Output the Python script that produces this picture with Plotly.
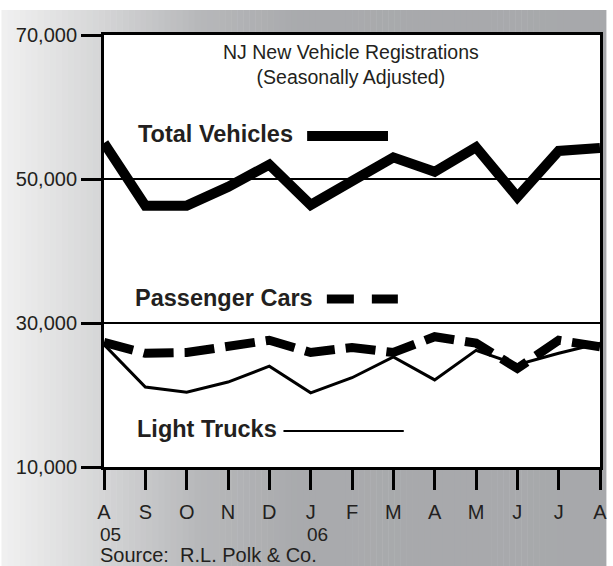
import plotly.graph_objects as go

# data (Aug 2005 - Aug 2006)
months = ['A', 'S', 'O', 'N', 'D', 'J', 'F', 'M', 'A', 'M', 'J', 'J', 'A']
years = ['05', '06']
year_pos = [0, 5]
total = [55000, 46300, 46300, 48900, 52000, 46400, 49700, 53000, 51000, 54400, 47500, 53900, 54300]
cars = [27300, 25800, 25900, 26700, 27600, 25900, 26600, 25900, 28100, 27200, 23700, 27600, 26700]
trucks = [27000, 21100, 20400, 21800, 24000, 20300, 22400, 25300, 22100, 26200, 24200, 25800, 27200]
yticks = [10000, 30000, 50000, 70000]

W, H = 613, 566
L, R, T, B = 104, 6, 35, 99
pw, ph = W - L - R, H - T - B

FONT = 'Liberation Sans, Arial, sans-serif'
INK = '#231f20'


def px(x):
    return (x - L) / pw


def py(y):
    return (H - B - y) / ph


def grey(x):
    # background gradient, light on the left, flat grey to the right
    stops = [(0, 241), (100, 213), (200, 183), (300, 169), (W, 167)]
    for (a, ca), (b, cb) in zip(stops[:-1], stops[1:]):
        if x <= b:
            v = ca + (cb - ca) * (x - a) / (b - a)
            break
    tint = (241 - v) / 74.0 * 4
    return 'rgb(%d,%d,%d)' % (round(v), round(v + tint * 0.3), round(v + tint))


xs = list(range(len(months)))

fig = go.Figure()
fig.add_trace(go.Scatter(x=xs, y=trucks, mode='lines',
                         line=dict(color='black', width=3), showlegend=False))
fig.add_trace(go.Scatter(x=xs, y=cars, mode='lines',
                         line=dict(color='black', width=9, dash='30px,11px'), showlegend=False))
fig.add_trace(go.Scatter(x=xs, y=total, mode='lines',
                         line=dict(color='black', width=10), showlegend=False))

shapes = []
n = 100
for i in range(n):
    x0 = W * i / n
    x1 = W * (i + 1) / n
    shapes.append(dict(type='rect', xref='paper', yref='paper', layer='below',
                       x0=px(x0), x1=px(x1 + 0.5), y0=py(H), y1=py(10),
                       fillcolor=grey((x0 + x1) / 2), line=dict(width=0)))
shapes.append(dict(type='rect', xref='paper', yref='paper', layer='below',
                   x0=0, x1=1, y0=0, y1=1, fillcolor='white', line=dict(width=0)))

# key samples
shapes.append(dict(type='line', xref='paper', yref='paper', x0=px(310), x1=px(392),
                   y0=py(136), y1=py(136), line=dict(color='black', width=10)))
shapes.append(dict(type='line', xref='paper', yref='paper', x0=px(330), x1=px(402),
                   y0=py(299), y1=py(299), line=dict(color='black', width=9, dash='27px,18px')))
shapes.append(dict(type='line', xref='paper', yref='paper', x0=px(286), x1=px(408),
                   y0=py(431), y1=py(431), line=dict(color='black', width=2)))

annotations = [
    dict(text='NJ New Vehicle Registrations<br>(Seasonally Adjusted)', xref='paper', yref='paper',
         x=px(354), y=py(65), xanchor='center', yanchor='middle', showarrow=False,
         font=dict(family=FONT, size=19.5, color=INK)),
    dict(text='<b>Total Vehicles</b>', xref='paper', yref='paper', x=px(136), y=py(134),
         xanchor='left', yanchor='middle', showarrow=False, font=dict(family=FONT, size=23.5, color=INK)),
    dict(text='<b>Passenger Cars</b>', xref='paper', yref='paper', x=px(133), y=py(298),
         xanchor='left', yanchor='middle', showarrow=False, font=dict(family=FONT, size=23.5, color=INK)),
    dict(text='<b>Light Trucks</b>', xref='paper', yref='paper', x=px(135), y=py(429),
         xanchor='left', yanchor='middle', showarrow=False, font=dict(family=FONT, size=23.5, color=INK)),
    dict(text='Source:  R.L. Polk & Co.', xref='paper', yref='paper', x=px(98), y=py(555),
         xanchor='left', yanchor='middle', showarrow=False, font=dict(family=FONT, size=20, color=INK)),
]
for yr, pos in zip(years, year_pos):
    annotations.append(dict(text=yr, xref='x', yref='paper', x=pos, y=py(534), xshift=-6,
                            xanchor='left', yanchor='middle', showarrow=False,
                            font=dict(family=FONT, size=19, color=INK)))

fig.update_layout(
    width=W, height=H,
    margin=dict(l=L, r=R, t=T, b=B),
    paper_bgcolor='white', plot_bgcolor='white',
    shapes=shapes, annotations=annotations,
    xaxis=dict(range=[0, 12], tickmode='array', tickvals=xs, ticktext=months,
               ticks='outside', ticklen=20, tickwidth=3, tickcolor='black',
               showline=True, linewidth=3, linecolor='black', mirror=True,
               showgrid=False, zeroline=False, ticklabelstandoff=5,
               tickfont=dict(family=FONT, size=20, color=INK)),
    yaxis=dict(range=[10000, 70000], tickmode='array', tickvals=yticks,
               ticktext=['{:,}'.format(v) for v in yticks],
               ticks='outside', ticklen=20, tickwidth=3, tickcolor='black',
               showline=True, linewidth=3, linecolor='black', mirror=True,
               showgrid=True, gridcolor='black', gridwidth=2, zeroline=False,
               tickfont=dict(family=FONT, size=20, color=INK)),
)

fig.write_html('out.html', config={'displayModeBar': False},
               post_script="document.body.style.margin='0';")
